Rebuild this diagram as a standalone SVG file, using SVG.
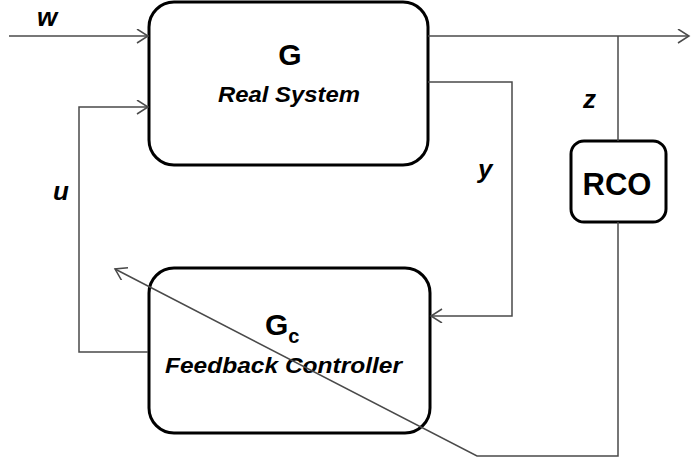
<svg xmlns="http://www.w3.org/2000/svg" width="691" height="462" viewBox="0 0 691 462">
  <style>
    .box { fill: #ffffff; stroke: #000000; stroke-width: 3; }
    .wire { fill: none; stroke: #4a4a4a; stroke-width: 1.5; }
    .lbl { font-family: "Liberation Sans", Arial, sans-serif; font-weight: bold; fill: #000000; }
    .it { font-style: italic; }
  </style>
  <defs>
    <marker id="open" markerUnits="userSpaceOnUse" markerWidth="14" markerHeight="16" refX="12" refY="7" orient="auto" viewBox="0 0 14 16">
      <path d="M1,0 L12,7 L1,14" fill="none" stroke="#4a4a4a" stroke-width="1.5"/>
    </marker>
  </defs>

  <rect width="691" height="462" fill="#ffffff"/>

  <g id="node-real-system">
    <rect class="box" x="149" y="2" width="279" height="163" rx="25"/>
    <text class="lbl" x="290" y="65" font-size="30" text-anchor="middle">G</text>
    <text class="lbl it" x="218" y="102" font-size="22" textLength="142" lengthAdjust="spacingAndGlyphs">Real System</text>
  </g>

  <g id="node-controller">
    <rect class="box" x="149" y="268" width="281" height="165" rx="25"/>
    <text class="lbl" x="265" y="335" font-size="30">G<tspan font-size="20" dy="8">c</tspan></text>
    <text class="lbl it" x="165" y="373" font-size="22" textLength="237" lengthAdjust="spacingAndGlyphs">Feedback Controller</text>
  </g>

  <g id="node-rco">
    <rect class="box" x="571" y="141" width="95" height="81" rx="13"/>
    <text class="lbl" x="617" y="195" font-size="31" text-anchor="middle">RCO</text>
  </g>

  <g id="connectors">
    <path class="wire" d="M9,36 H148" marker-end="url(#open)"/>
    <path class="wire" d="M148,352 H79 V107 H148" marker-end="url(#open)"/>
    <path class="wire" d="M428,36 H689" marker-end="url(#open)"/>
    <path class="wire" d="M618,36 V141"/>
    <path class="wire" d="M428,82 H512 V316 H431" marker-end="url(#open)"/>
    <path class="wire" d="M618,222 V456 H477 L115,269" marker-end="url(#open)"/>
  </g>

  <g id="signal-labels">
    <text class="lbl it" x="37" y="26" font-size="26">w</text>
    <text class="lbl it" x="53" y="200" font-size="26">u</text>
    <text class="lbl it" x="478" y="178" font-size="26">y</text>
    <text class="lbl it" x="583" y="108" font-size="26">z</text>
  </g>
</svg>
